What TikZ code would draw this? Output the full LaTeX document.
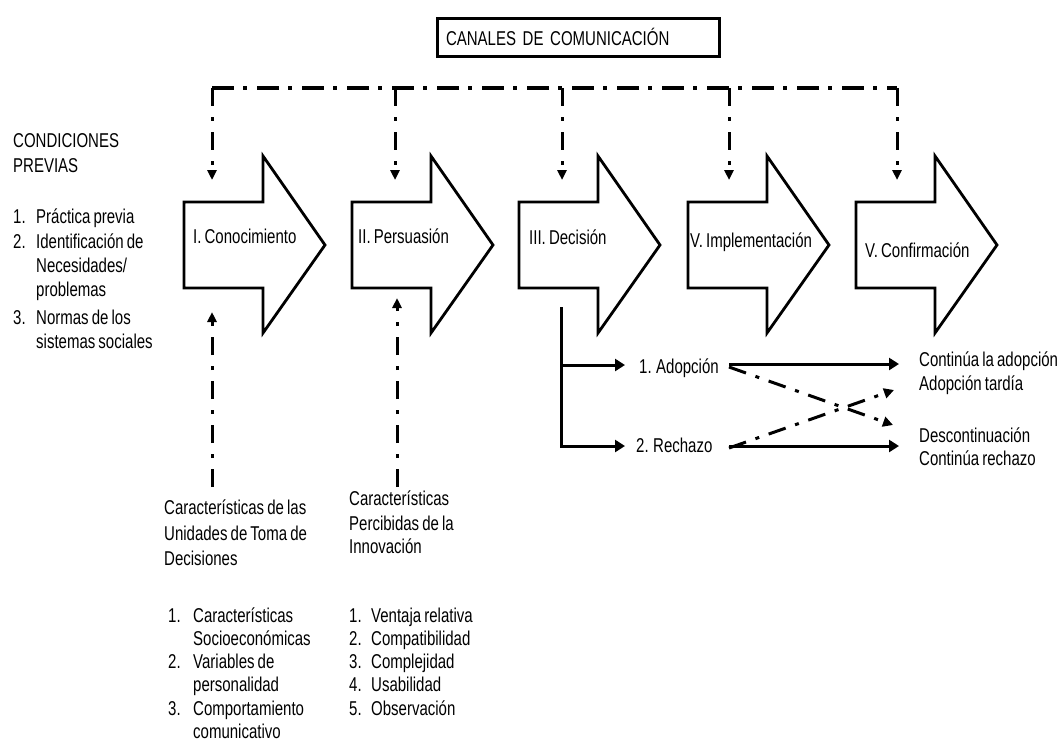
\documentclass[tikz,border=0pt]{standalone}
\usepackage{fontspec}
\setmainfont{Liberation Sans}[FakeStretch=0.75,WordSpace=0.75]
\usetikzlibrary{arrows.meta}
\begin{document}
\begin{tikzpicture}[x=1pt,y=-1pt,
  lbl/.style={inner sep=0pt, anchor=base west, font=\fontsize{20}{24}\selectfont},
  stagearrow/.style={draw, line width=2.8pt, line join=miter, fill=white},
  chanbox/.style={draw, line width=3pt, anchor=north west, minimum width=282pt,
    minimum height=38pt, inner xsep=9pt, text width=264pt, align=left,
    font=\fontsize{20}{24}\selectfont},
  chanline/.style={line width=4pt, dash pattern=on 22pt off 9pt on 4pt off 10pt},
  chanarrow/.style={line width=3pt, dash pattern=on 18pt off 11pt on 4pt off 11pt,
    -{Triangle[length=10pt,width=9pt]}},
  altarrow/.style={line width=3pt, dash pattern=on 18pt off 10pt on 4pt off 10pt,
    -{Triangle[length=10pt,width=10pt]}},
  flow/.style={line width=3pt, -{Triangle[length=10pt,width=12pt]}},
  spine/.style={line width=3pt}
]
\useasboundingbox (0,0) rectangle (1062,745);

% communication channels box
\node[chanbox] (canal) at (435.5,16.5) {CANALES DE COMUNICACIÓN};

% the five stage arrows
\foreach \L [count=\i] in {184,352,519,688,856} {
  \draw[stagearrow] (\L,202) -- (\L+79,202) -- (\L+79,156) -- (\L+141,245)
    -- (\L+79,333) -- (\L+79,288) -- (\L,288) -- cycle;
}
\node[lbl] (s1) at (193,243) {I. Conocimiento};
\node[lbl] (s2) at (358,243) {II. Persuasión};
\node[lbl] (s3) at (529,244) {III. Decisión};
\node[lbl] (s4) at (690,247) {V. Implementación};
\node[lbl] (s5) at (865,257) {V. Confirmación};

% channel distribution line and arrows into each stage
\coordinate (t1) at (212,88);
\coordinate (t2) at (395,88);
\coordinate (t3) at (562,88);
\coordinate (t4) at (729,88);
\coordinate (t5) at (897,88);
\coordinate (e1) at (212,180);
\coordinate (e2) at (395,180);
\coordinate (e3) at (562,180);
\coordinate (e4) at (729,180);
\coordinate (e5) at (897,180);
\draw[chanline] (t1) -- (t5);
\foreach \i in {1,...,5} { \draw[chanarrow] (t\i) -- (e\i); }

% prior conditions
\node[lbl] (cp1) at (13,147) {CONDICIONES};
\node[lbl] (cp2) at (13,172) {PREVIAS};
\node[lbl] (cpn1) at (13,223) {1.};
\node[lbl] (cpt1) at (36,223) {Práctica previa};
\node[lbl] (cpn2) at (13,248) {2.};
\node[lbl] (cpt2) at (36,248) {Identificación de};
\node[lbl] (cpt2b) at (36,272) {Necesidades/};
\node[lbl] (cpt2c) at (36,296) {problemas};
\node[lbl] (cpn3) at (13,324) {3.};
\node[lbl] (cpt3) at (36,324) {Normas de los};
\node[lbl] (cpt3b) at (36,348) {sistemas sociales};

% decision-making unit characteristics
\node[lbl] (du1) at (164,514) {Características de las};
\node[lbl] (du2) at (164,540) {Unidades de Toma de};
\node[lbl] (du3) at (164,565) {Decisiones};
\node[lbl] (dun1) at (168,622) {1.};
\node[lbl] (dut1) at (193,622) {Características};
\node[lbl] (dut1b) at (193,645) {Socioeconómicas};
\node[lbl] (dun2) at (168,668) {2.};
\node[lbl] (dut2) at (193,668) {Variables de};
\node[lbl] (dut2b) at (193,691) {personalidad};
\node[lbl] (dun3) at (168,715) {3.};
\node[lbl] (dut3) at (193,715) {Comportamiento};
\node[lbl] (dut3b) at (193,738) {comunicativo};

% perceived characteristics of the innovation
\node[lbl] (pi1) at (349,505) {Características};
\node[lbl] (pi2) at (349,530) {Percibidas de la};
\node[lbl] (pi3) at (349,553) {Innovación};
\node[lbl] (pin1) at (349,622) {1.};
\node[lbl] (pit1) at (371,622) {Ventaja relativa};
\node[lbl] (pin2) at (349,645) {2.};
\node[lbl] (pit2) at (371,645) {Compatibilidad};
\node[lbl] (pin3) at (349,668) {3.};
\node[lbl] (pit3) at (371,668) {Complejidad};
\node[lbl] (pin4) at (349,691) {4.};
\node[lbl] (pit4) at (371,691) {Usabilidad};
\node[lbl] (pin5) at (349,715) {5.};
\node[lbl] (pit5) at (371,715) {Observación};

% influences from below
\coordinate (u1) at (212,487);
\coordinate (v1) at (212,312);
\coordinate (u2) at (397,487);
\coordinate (v2) at (397,298);
\draw[chanarrow] (u1) -- (v1);
\draw[chanarrow] (u2) -- (v2);

% decision outcomes
\node[lbl] (adop) at (639,373) {1. Adopción};
\node[lbl] (rech) at (636,452) {2. Rechazo};
\coordinate (dtop) at (561,307);
\coordinate (dmid) at (561,365);
\coordinate (ain) at (625,365);
\coordinate (rin) at (625,446);
\draw[spine] (dtop) -- (dmid);
\draw[flow] (dmid) |- (rin);
\draw[flow] (dmid) -- (ain);

% results after the decision
\node[lbl] (r1) at (919,366) {Continúa la adopción};
\node[lbl] (r2) at (919,390) {Adopción tardía};
\node[lbl] (r3) at (919,442) {Descontinuación};
\node[lbl] (r4) at (919,465) {Continúa rechazo};
\coordinate (aout) at (729,364);
\coordinate (rout) at (729,446);
\coordinate (r1in) at (899,364);
\coordinate (r4in) at (899,446);
\coordinate (aalt) at (729,367);
\coordinate (ralt) at (729,448);
\coordinate (r2in) at (894,390);
\coordinate (r3in) at (893,425);
\draw[flow] (aout) -- (r1in);
\draw[flow] (rout) -- (r4in);
\draw[altarrow] (aalt) -- (r3in);
\draw[altarrow] (ralt) -- (r2in);
\end{tikzpicture}
\end{document}
